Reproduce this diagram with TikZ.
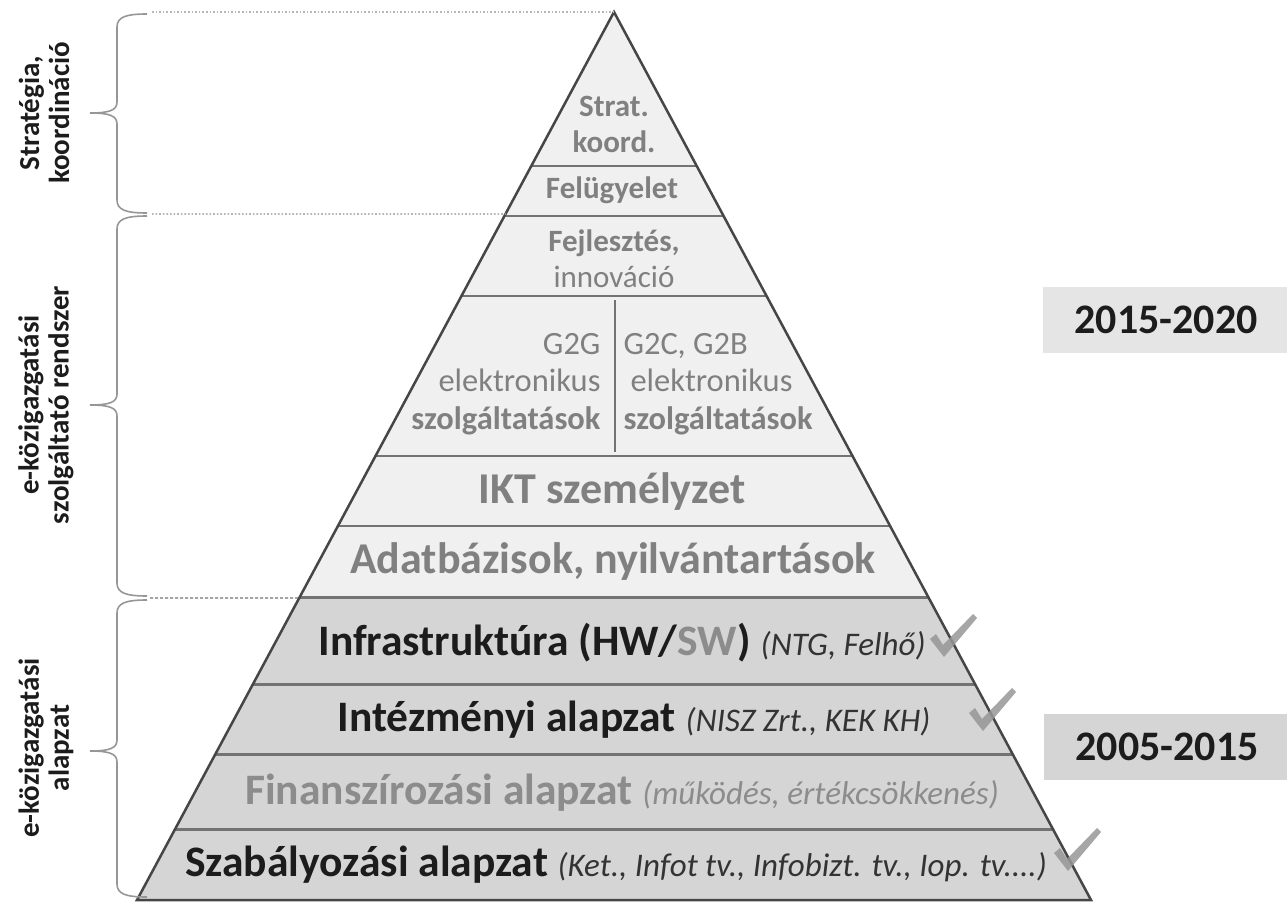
\documentclass[tikz,border=0pt]{standalone}
\usepackage{fontspec}
\setmainfont{Carlito}
\usepackage{tikz}
\usetikzlibrary{calc, positioning}

\definecolor{lightfill}{RGB}{240,240,240}
\definecolor{darkfill}{RGB}{213,213,213}
\definecolor{edgegray}{RGB}{70,70,70}
\definecolor{linegray}{RGB}{115,115,115}
\definecolor{textgray}{RGB}{128,128,128}
\definecolor{softgray}{RGB}{140,140,140}
\definecolor{textdark}{RGB}{28,28,28}
\definecolor{bracegray}{RGB}{150,150,150}
\definecolor{checkgray}{RGB}{150,150,150}

\newcommand{\notefont}{\mdseries\itshape\fontsize{33}{33}\selectfont}
% curly brace on the left: top, tip, bottom
\newcommand{\sidebrace}[3]{%
  \draw[bracegray, line width=1.6pt] (147,#1) .. controls (126,#1) and (117,#1+3) .. (117,#1+13)
    -- (117,#2-11) .. controls (117,#2-3) and (110,#2) .. (90,#2)
    .. controls (110,#2) and (117,#2+3) .. (117,#2+11)
    -- (117,#3-13) .. controls (117,#3-3) and (126,#3) .. (147,#3);}
% tick mark, given by its lowest point
\newcommand{\checkmk}[2]{%
  \fill[checkgray, opacity=.85] (#1-13,#2-14) -- (#1-7,#2-19) -- (#1,#2-8)
    -- (#1+30,#2-39) -- (#1+34,#2-35) -- (#1+1,#2+4) -- cycle;}

\begin{document}
\begin{tikzpicture}[x=1pt, y=-1pt,
  toptxt/.style={text=textgray, font=\bfseries\fontsize{31}{36}\selectfont, align=center},
  svctxt/.style={text=textgray, font=\fontsize{32.5}{37.5}\selectfont},
  midtxt/.style={text=textgray, font=\bfseries\fontsize{44}{44}\selectfont},
  basetxt/.style={text=textdark, font=\bfseries\fontsize{43.5}{43.5}\selectfont},
  sidelbl/.style={text=textdark, font=\bfseries\fontsize{29}{30}\selectfont, align=center, rotate=90},
  yearbox/.style={minimum width=246pt, minimum height=66pt, inner sep=0pt, text=textdark,
    font=\bfseries\fontsize{42}{42}\selectfont}]
\useasboundingbox (0,0) rectangle (1287,904);

\coordinate (apex) at (614,12);
\coordinate (baseL) at (137,900);
\coordinate (baseR) at (1091,900);
\coordinate (midL) at ($(apex)!{586/888}!(baseL)$);
\coordinate (midR) at ($(apex)!{586/888}!(baseR)$);

% pyramid
\fill[lightfill] (apex) -- (midL) -- (midR) -- cycle;
\fill[darkfill] (midL) -- (baseL) -- (baseR) -- (midR) -- cycle;
\foreach \y in {166,216,296,456,526}
  \draw[linegray, line width=1.5pt] ($(apex)!{(\y-12)/888}!(baseL)$) -- ($(apex)!{(\y-12)/888}!(baseR)$);
\foreach \y in {598,685,755,830}
  \draw[linegray, line width=3pt] ($(apex)!{(\y-12)/888}!(baseL)$) -- ($(apex)!{(\y-12)/888}!(baseR)$);
\draw[linegray, line width=1.2pt] (615,300) -- (615,452);
\draw[edgegray, line width=2.5pt] (apex) -- (baseL) -- (baseR) -- cycle;

% guide lines and braces
\draw[bracegray!70, dotted, line width=1.6pt] (152,12) -- (apex);
\draw[bracegray!70, dotted, line width=1.6pt] (152,214) -- ($(apex)!{202/888}!(baseL)$);
\draw[linegray, densely dashed, line width=1.2pt] (150,598) -- (midL);
\sidebrace{14}{113}{213}
\sidebrace{216}{405}{596}
\sidebrace{600}{751}{897}

\node[sidelbl] (lblstrat) at (44,113) {Stratégia,\\koordináció};
\node[sidelbl] (lblszolg) at (46,405) {e-közigazgatási\\szolgáltató rendszer};
\node[sidelbl] (lblalap) at (46,748) {e-közigazgatási\\alapzat};

% layers
\node[toptxt] (strat) at (614,124) {Strat.\\koord.};
\node[toptxt] (felugy) at (612,190) {Felügyelet};
\node[toptxt] (fejl) at (614,259) {Fejlesztés,\\{\mdseries innováció}};
\coordinate (split) at (615,384);
\node[svctxt, align=right, left=11pt of split] (gtg) {G2G\\elektronikus\\\textbf{szolgáltatások}};
\node[svctxt, align=left, right=5pt of split] (gtc) {G2C, G2B\\\hspace*{7pt}elektronikus\\\textbf{szolgáltatások}};
\node[midtxt] (ikt) at (612,492) {IKT személyzet};
\node[midtxt] (adat) at (613,562) {Adatbázisok, nyilvántartások};
\node[basetxt] (infra) at (622,643) {Infrastruktúra (HW/\textcolor{softgray}{SW}) {\notefont\color{textdark!90} (NTG, Felhő)}};
\node[basetxt] (intez) at (634,720) {Intézményi alapzat {\notefont\color{textdark!90} (NISZ Zrt., KEK KH)}};
\node[basetxt, text=softgray] (finansz) at (622,793) {Finanszírozási alapzat {\notefont (működés, értékcsökkenés)}};
\node[basetxt] (szab) at (616,865) {Szabályozási alapzat {\notefont\color{textdark!90} (Ket., Infot tv., Infobizt. tv., Iop. tv....)}};

\checkmk{943}{653}
\checkmk{982}{727}
\checkmk{1067}{867}

% periods
\node[yearbox, fill=lightfill!90!gray] (recent) at (1166,320) {2015-2020};
\node[yearbox, fill=darkfill] (earlier) at (1167,747) {2005-2015};
\end{tikzpicture}
\end{document}
